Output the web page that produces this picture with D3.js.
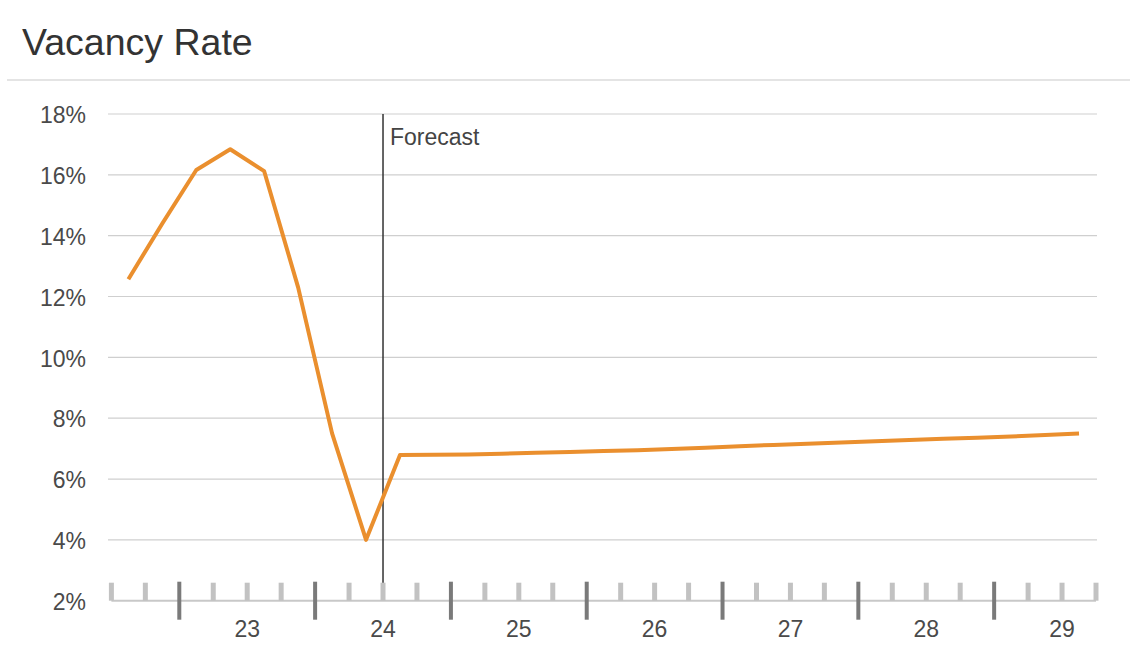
<!DOCTYPE html>
<html>
<head>
<meta charset="utf-8">
<script src="https://cdn.jsdelivr.net/npm/d3@7/dist/d3.min.js"></script>
<style>
  html, body { margin: 0; padding: 0; background: #fff; }
  svg { display: block; }
  text { font-family: "Liberation Sans", Arial, sans-serif; }
</style>
</head>
<body>
<svg id="chart" width="1130" height="656"></svg>
<script>
// Quarterly periods on the x axis
const quarters = [
  "2022 Q3", "2022 Q4",
  "2023 Q1", "2023 Q2", "2023 Q3", "2023 Q4",
  "2024 Q1", "2024 Q2", "2024 Q3", "2024 Q4",
  "2025 Q1", "2025 Q2", "2025 Q3", "2025 Q4",
  "2026 Q1", "2026 Q2", "2026 Q3", "2026 Q4",
  "2027 Q1", "2027 Q2", "2027 Q3", "2027 Q4",
  "2028 Q1", "2028 Q2", "2028 Q3", "2028 Q4",
  "2029 Q1", "2029 Q2", "2029 Q3"
];

// Vacancy rate (%) per quarter
const vacancy = [
  12.57, 14.40,
  16.16, 16.84, 16.12, 12.30,
  7.50, 4.00, 6.79, 6.80,
  6.81, 6.83, 6.86, 6.89,
  6.92, 6.95, 6.99, 7.03,
  7.08, 7.12, 7.16, 7.20,
  7.24, 7.28, 7.32, 7.36,
  7.40, 7.45, 7.50
];

const yTicks = [2, 4, 6, 8, 10, 12, 14, 16, 18];
const yearLabels = ["23", "24", "25", "26", "27", "28", "29"];
const yearStarts = ["2023 Q1", "2024 Q1", "2025 Q1", "2026 Q1", "2027 Q1", "2028 Q1", "2029 Q1"];
const forecastStart = "2024 Q3";

const svg = d3.select("#chart");

// Title and divider
svg.append("text")
  .attr("x", 22).attr("y", 55)
  .attr("font-size", 37.5)
  .attr("fill", "#333")
  .text("Vacancy Rate");
svg.append("line")
  .attr("x1", 7).attr("x2", 1130)
  .attr("y1", 80).attr("y2", 80)
  .attr("stroke", "#e4e4e4").attr("stroke-width", 2);

// Scales
const x = d3.scaleBand().domain(quarters).range([111.4, 1096]).padding(0);
const y = d3.scaleLinear().domain([2, 18]).range([600.7, 114]);
const bw = x.bandwidth();

// Horizontal gridlines (above the baseline)
svg.append("g").selectAll("line")
  .data(yTicks.filter(d => d > 2))
  .join("line")
  .attr("x1", 108).attr("x2", 1097)
  .attr("y1", d => y(d)).attr("y2", d => y(d))
  .attr("stroke", "#cfcfcf").attr("stroke-width", 1.2);

// Y axis labels
svg.append("g").selectAll("text")
  .data(yTicks)
  .join("text")
  .attr("x", 86)
  .attr("y", d => y(d) + 1)
  .attr("dy", "0.36em")
  .attr("text-anchor", "end")
  .attr("font-size", 23)
  .attr("fill", "#4a4a4a")
  .text(d => d + "%");

// Baseline
svg.append("line")
  .attr("x1", x.range()[0]).attr("x2", x.range()[1])
  .attr("y1", y(2)).attr("y2", y(2))
  .attr("stroke", "#c8c8c8").attr("stroke-width", 2);

// Quarter boundary ticks: minor at quarters, major at year starts
const boundaries = quarters.map(q => x(q)).concat([x.range()[1]]);
const majorSet = new Set(yearStarts.map(q => x(q)));
svg.append("g").selectAll("line")
  .data(boundaries.filter(b => !majorSet.has(b)))
  .join("line")
  .attr("x1", d => d).attr("x2", d => d)
  .attr("y1", y(2) - 18).attr("y2", y(2))
  .attr("stroke", "#c2c2c2").attr("stroke-width", 5);
svg.append("g").selectAll("line")
  .data(yearStarts)
  .join("line")
  .attr("x1", d => x(d)).attr("x2", d => x(d))
  .attr("y1", y(2) - 19).attr("y2", y(2) + 19)
  .attr("stroke", "#7a7a7a").attr("stroke-width", 4);

// Year labels, centred on each year
svg.append("g").selectAll("text")
  .data(yearLabels)
  .join("text")
  .attr("x", (d, i) => x(yearStarts[i]) + bw * 2)
  .attr("y", 629)
  .attr("dy", "0.36em")
  .attr("text-anchor", "middle")
  .attr("font-size", 23)
  .attr("fill", "#4a4a4a")
  .text(d => d);

// Forecast marker
const fx = x(forecastStart);
svg.append("line")
  .attr("x1", fx).attr("x2", fx)
  .attr("y1", y(18)).attr("y2", y(2) - 18)
  .attr("stroke", "#333").attr("stroke-width", 1.5);
svg.append("text")
  .attr("x", fx + 7).attr("y", 145)
  .attr("font-size", 23)
  .attr("fill", "#444")
  .text("Forecast");

// Vacancy line
const line = d3.line()
  .x((d, i) => x(quarters[i]) + bw / 2)
  .y(d => y(d));
svg.append("path")
  .datum(vacancy)
  .attr("d", line)
  .attr("fill", "none")
  .attr("stroke", "#EA8F2E")
  .attr("stroke-width", 4)
  .attr("stroke-linejoin", "round");
</script>
</body>
</html>
